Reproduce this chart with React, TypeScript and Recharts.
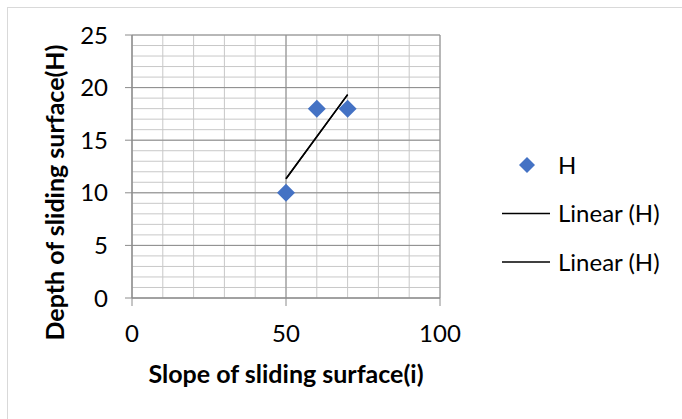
import React from 'react'
import {
  ScatterChart,
  Scatter,
  XAxis,
  YAxis,
  CartesianGrid,
  Legend,
  Label,
} from 'recharts'

// data
const SLOPE = [50, 60, 70]
const DEPTH = [10, 18, 18]
const TREND_X = [50, 70]
const TREND_Y = [11.33, 19.33]
const X_TICKS = [0, 50, 100]
const Y_TICKS = [0, 5, 10, 15, 20, 25]
const X_MINOR = [0, 10, 20, 30, 40, 50, 60, 70, 80, 90, 100]
const Y_MINOR = [0, 1, 2, 3, 4, 5, 6, 7, 8, 9, 10, 11, 12, 13, 14, 15, 16, 17, 18, 19, 20, 21, 22, 23, 24, 25]

const points = SLOPE.map((x, i) => ({ x, y: DEPTH[i] }))
const trend = TREND_X.map((x, i) => ({ x, y: TREND_Y[i] }))

const FONT = 'Lato, "Noto Sans", sans-serif'
const BLUE = '#4472C4'
const MAJOR = '#8c8c8c'
const MINOR = '#c8c8c8'

function Diamond(props: any) {
  const { cx, cy } = props
  if (cx == null || cy == null) return <g />
  const r = 9
  return (
    <polygon
      points={`${cx},${cy - r} ${cx + r},${cy} ${cx},${cy + r} ${cx - r},${cy}`}
      fill={BLUE}
    />
  )
}

function renderLegend(props: any) {
  const items = (props.payload || []) as Array<{ value: string; type: string }>
  return (
    <svg width={190} height={140} style={{ display: 'block' }}>
      {items.map((it, i) => {
        const cy = 25 + i * 48.5
        return (
          <g key={i}>
            {it.type === 'diamond' ? (
              <polygon
                points={`37,${cy - 8} 45,${cy} 37,${cy + 8} 29,${cy}`}
                fill={BLUE}
              />
            ) : (
              <line x1={12} x2={60} y1={cy} y2={cy} stroke="#000" strokeWidth={1.3} />
            )}
            <text
              x={68}
              y={cy + 8.5}
              fontFamily={FONT}
              fontSize={24}
              fill="#000"
            >
              {it.value}
            </text>
          </g>
        )
      })}
    </svg>
  )
}

export default function App() {
  return (
    <div
      style={{
        position: 'absolute',
        left: 0,
        top: 0,
        width: 682,
        height: 419,
        overflow: 'hidden',
        background: '#fff',
      }}
    >
      <div
        style={{
          position: 'absolute',
          left: 7,
          top: 7,
          width: 700,
          height: 440,
          border: '1px solid #d9d9d9',
        }}
      />
      <div style={{ position: 'absolute', left: 0, top: 0 }}>
        <ScatterChart
          width={682}
          height={419}
          margin={{ top: 35, right: 242, bottom: 81, left: 92 }}
        >
          <CartesianGrid
            horizontalValues={Y_MINOR}
            verticalValues={X_MINOR}
            stroke={MINOR}
            strokeWidth={1}
          />
          <CartesianGrid
            horizontalValues={Y_TICKS}
            verticalValues={X_TICKS}
            stroke={MAJOR}
            strokeWidth={1}
          />
          <XAxis
            type="number"
            dataKey="x"
            domain={[0, 100]}
            ticks={X_TICKS}
            interval={0}
            height={40}
            tickSize={8}
            tickMargin={19}
            axisLine={{ stroke: MAJOR }}
            tickLine={{ stroke: MAJOR }}
            tick={{ fontFamily: FONT, fontSize: 24, fill: '#000' }}
          >
            <Label
              content={({ viewBox }: any) => (
                <text
                  x={viewBox.x + viewBox.width / 2}
                  y={viewBox.y + 85}
                  textAnchor="middle"
                  fontFamily={FONT}
                  fontSize={25}
                  fontWeight="bold"
                  fill="#000"
                >
                  Slope of sliding surface(i)
                </text>
              )}
            />
          </XAxis>
          <YAxis
            type="number"
            dataKey="y"
            domain={[0, 25]}
            ticks={Y_TICKS}
            interval={0}
            width={40}
            tickSize={7}
            tickMargin={17}
            axisLine={{ stroke: MAJOR }}
            tickLine={{ stroke: MAJOR }}
            tick={{ fontFamily: FONT, fontSize: 24, fill: '#000' }}
          >
            <Label
              content={({ viewBox }: any) => {
                const lx = viewBox.x - 28
                const ly = viewBox.y + viewBox.height / 2 + 26
                return (
                  <text
                    x={lx}
                    y={ly}
                    transform={`rotate(-90, ${lx}, ${ly})`}
                    textAnchor="middle"
                    fontFamily={FONT}
                    fontSize={25}
                    fontWeight="bold"
                    fill="#000"
                  >
                    Depth of sliding surface(H)
                  </text>
                )
              }}
            />
          </YAxis>
          <Legend
            layout="horizontal"
            verticalAlign="middle"
            align="center"
            content={renderLegend}
            wrapperStyle={{ position: 'absolute', left: 490, top: 140, width: 190 }}
          />
          <Scatter
            name="H"
            data={points}
            legendType="diamond"
            shape={Diamond}
            isAnimationActive={false}
          />
          <Scatter
            name="Linear (H)"
            data={trend}
            legendType="line"
            line={{ stroke: '#000', strokeWidth: 1.5 }}
            shape={() => <g />}
            isAnimationActive={false}
          />
          <Scatter
            name="Linear (H)"
            data={trend}
            legendType="line"
            line={{ stroke: '#000', strokeWidth: 1.5 }}
            shape={() => <g />}
            isAnimationActive={false}
          />
        </ScatterChart>
      </div>
    </div>
  )
}
